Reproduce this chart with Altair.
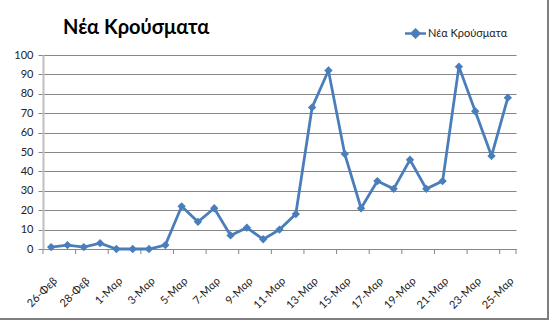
import altair as alt
import pandas as pd

dates = ["26-Φεβ", "27-Φεβ", "28-Φεβ", "29-Φεβ", "1-Μαρ", "2-Μαρ", "3-Μαρ", "4-Μαρ",
         "5-Μαρ", "6-Μαρ", "7-Μαρ", "8-Μαρ", "9-Μαρ", "10-Μαρ", "11-Μαρ", "12-Μαρ",
         "13-Μαρ", "14-Μαρ", "15-Μαρ", "16-Μαρ", "17-Μαρ", "18-Μαρ", "19-Μαρ", "20-Μαρ",
         "21-Μαρ", "22-Μαρ", "23-Μαρ", "24-Μαρ", "25-Μαρ"]
cases = [1, 2, 1, 3, 0, 0, 0, 2, 22, 14, 21, 7, 11, 5, 10, 18,
         73, 92, 49, 21, 35, 31, 46, 31, 35, 94, 71, 48, 78]
series_name = "Νέα Κρούσματα"

df = pd.DataFrame({"idx": list(range(len(dates))), "date": dates, "cases": cases,
                   "series": [series_name] * len(dates)})
tick_df = pd.DataFrame({"b": [i - 0.5 for i in range(0, len(dates) + 1, 2)] + [len(dates) - 0.5]})

FONT = "Lato"
BLUE = "#4A7EBB"
W, H = 473, 194

label_js = "[" + ",".join('"%s"' % d for d in dates) + "]"

xscale = alt.Scale(domain=[-0.5, len(dates) - 0.5], nice=False, zero=False)
yscale = alt.Scale(domain=[0, 100], nice=False)

x_axis = alt.Axis(values=list(range(0, len(dates), 2)),
                  labelExpr=label_js + "[datum.value]",
                  labelAngle=-45, labelAlign="right", labelBaseline="middle",
                  labelPadding=30, labelOffset=4, ticks=False, grid=False, domain=True,
                  domainColor="#868686", domainWidth=1,
                  labelFont=FONT, labelFontSize=11, labelColor="#222222",
                  labelOverlap=False, labelBound=False)
y_axis = alt.Axis(values=list(range(0, 101, 10)), grid=True, gridColor="#868686",
                  gridWidth=1, tickSize=5, tickColor="#868686", domain=True,
                  domainColor="#BFBFBF", domainWidth=2, labelPadding=5,
                  labelFont=FONT, labelFontSize=11, labelColor="#222222",
                  labelOverlap=False)

x_enc = alt.X("idx:Q", scale=xscale, title=None, axis=x_axis)
y_enc = alt.Y("cases:Q", scale=yscale, title=None, axis=y_axis)

color_enc = alt.Color("series:N", scale=alt.Scale(range=[BLUE]),
                      legend=alt.Legend(title=None, orient="none", legendX=364, legendY=-30,
                                        symbolType="M-1.5,0L1.5,0M0,-0.55L0.55,0L0,0.55L-0.55,0Z",
                                        symbolSize=196, symbolStrokeWidth=2.5,
                                        symbolFillColor=BLUE, symbolStrokeColor=BLUE,
                                        labelFont=FONT, labelFontSize=11, labelColor="#222222",
                                        labelOffset=4))

line = alt.Chart(df).mark_line(strokeWidth=2.8).encode(x=x_enc, y=y_enc, color=color_enc)
pts = alt.Chart(df).mark_point(shape="diamond", filled=True, size=70, opacity=1).encode(
    x=x_enc, y=y_enc, color=color_enc)

ticks = alt.Chart(tick_df).mark_rule(color="#868686", strokeWidth=1).encode(
    x=alt.X("b:Q", scale=xscale, title=None, axis=x_axis), y=alt.value(H), y2=alt.value(H + 5))

frame = alt.Chart(pd.DataFrame({"k": [0]})).mark_rule(color="#7F7F7F", strokeWidth=2).encode(
    x=alt.value(505), y=alt.value(-60), y2=alt.value(265))
frame2 = alt.Chart(pd.DataFrame({"k": [0]})).mark_rule(color="#7F7F7F", strokeWidth=2).encode(
    x=alt.value(-50), x2=alt.value(506), y=alt.value(264))

chart = alt.layer(ticks, line, pts, frame, frame2).properties(
    width=W, height=H,
    autosize=alt.AutoSizeParams(type="none"),
    padding={"left": 43, "top": 55, "right": 33, "bottom": 71},
    title=alt.TitleParams(series_name, anchor="start", frame="group", dx=20, offset=-44,
                          font=FONT, fontSize=20, fontWeight="bold", color="#000000"),
    background="white",
).configure_view(stroke=None)

chart.save("out.html", embed_options={"renderer": "svg", "actions": False})
